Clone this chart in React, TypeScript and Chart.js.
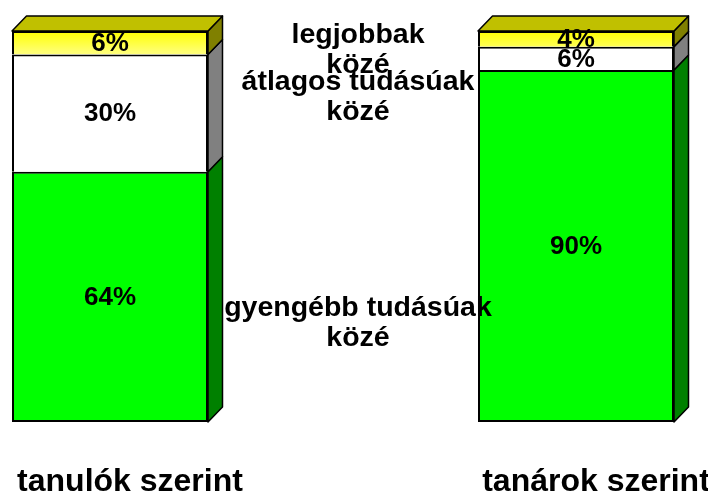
import React, { useEffect, useRef } from "react";
import { Chart, registerables } from "chart.js";

Chart.register(...registerables);

// ---- data ----
const categories = ["tanulók szerint", "tanárok szerint"];
const seriesNames = [
  ["gyengébb tudásúak", "közé"],
  ["átlagos tudásúak", "közé"],
  ["legjobbak", "közé"],
];
const weakValues = [64, 90];
const averageValues = [30, 6];
const bestValues = [6, 4];
// value-axis position of the first line of each series name
const nameAnchorValues = [29.2, 86.8, 99.0];
const valueMin = 0;
const valueMax = 100;

// ---- styles ----
const frontColors = ["#00ff00", "#ffffff", "yellowGradient"];
const sideColors = ["#008000", "#808080", "#808000"];
const topColors = ["#00c000", "#c0c0c0", "#c0c000"];
const DEPTH_X = 14.5;
const DEPTH_Y = 15;
const EDGE = "#000000";

const threeD = {
  id: "threeD",
  afterDatasetsDraw(chart: any) {
    const ctx = chart.ctx;
    const n = chart.data.datasets.length;
    ctx.save();
    ctx.lineWidth = 1.5;
    ctx.strokeStyle = EDGE;
    ctx.lineJoin = "round";
    for (let d = 0; d < n; d++) {
      const meta = chart.getDatasetMeta(d);
      meta.data.forEach((el: any) => {
        const p = el.getProps(["x", "y", "base", "width"], true);
        const x2 = p.x + p.width / 2;
        const x1 = p.x - p.width / 2;
        const yT = Math.min(p.y, p.base);
        const yB = Math.max(p.y, p.base);
        ctx.beginPath();
        ctx.moveTo(x2, yT);
        ctx.lineTo(x2 + DEPTH_X, yT - DEPTH_Y);
        ctx.lineTo(x2 + DEPTH_X, yB - DEPTH_Y);
        ctx.lineTo(x2, yB);
        ctx.closePath();
        ctx.fillStyle = sideColors[d];
        ctx.fill();
        ctx.stroke();
        if (d === n - 1) {
          ctx.beginPath();
          ctx.moveTo(x1, yT);
          ctx.lineTo(x1 + DEPTH_X, yT - DEPTH_Y);
          ctx.lineTo(x2 + DEPTH_X, yT - DEPTH_Y);
          ctx.lineTo(x2, yT);
          ctx.closePath();
          ctx.fillStyle = topColors[d];
          ctx.fill();
          ctx.stroke();
        }
      });
    }
    // value labels
    ctx.fillStyle = "#000";
    ctx.font = "bold 26px 'Liberation Sans', Arial, sans-serif";
    ctx.textAlign = "center";
    ctx.textBaseline = "middle";
    for (let d = 0; d < n; d++) {
      const meta = chart.getDatasetMeta(d);
      const vals = chart.data.datasets[d].data;
      meta.data.forEach((el: any, i: number) => {
        const p = el.getProps(["x", "y", "base"], true);
        ctx.fillText(vals[i] + "%", p.x, (p.y + p.base) / 2 + 1);
      });
    }
    ctx.restore();
  },
  afterDraw(chart: any) {
    const ctx = chart.ctx;
    const xs = chart.scales.x;
    const ys = chart.scales.y;
    const cx = (xs.getPixelForValue(0) + xs.getPixelForValue(1)) / 2 + 15;
    ctx.save();
    ctx.fillStyle = "#000";
    ctx.font = "bold 28.5px 'Liberation Sans', Arial, sans-serif";
    ctx.textAlign = "center";
    ctx.textBaseline = "middle";
    seriesNames.forEach((lines, i) => {
      const y0 = ys.getPixelForValue(nameAnchorValues[i]);
      lines.forEach((t, j) => ctx.fillText(t, cx, y0 + j * 30));
    });
    // category labels
    ctx.font = "bold 32px 'Liberation Sans', Arial, sans-serif";
    ctx.textBaseline = "alphabetic";
    const baseY = chart.chartArea.bottom + 68.5;
    categories.forEach((c, i) => {
      ctx.fillText(c, xs.getPixelForValue(i) + 20, baseY);
    });
    ctx.restore();
  },
};

function yellowGradient(c: any) {
  const chart = c.chart;
  const ys = chart.scales && chart.scales.y;
  if (!chart.chartArea || !ys) return "#ffff00";
  const top = ys.getPixelForValue(valueMax);
  const bottom = ys.getPixelForValue(valueMax - 6);
  const g = chart.ctx.createLinearGradient(0, top, 0, bottom);
  g.addColorStop(0, "#ffff00");
  g.addColorStop(1, "#ffff80");
  return g;
}

export default function App() {
  const ref = useRef<HTMLCanvasElement | null>(null);
  useEffect(() => {
    if (!ref.current) return;
    const series = [weakValues, averageValues, bestValues];
    const chart = new Chart(ref.current, {
      type: "bar",
      data: {
        labels: categories,
        datasets: series.map((vals, i) => ({
          label: seriesNames[i].join(" "),
          data: vals,
          backgroundColor: frontColors[i] === "yellowGradient" ? yellowGradient : frontColors[i],
          borderColor: EDGE,
          borderWidth: 2,
          borderSkipped: i === 0 ? false : "start",
          categoryPercentage: 1,
          barPercentage: 0.4206,
          clip: false,
        })) as any,
      },
      options: {
        animation: false,
        responsive: true,
        maintainAspectRatio: false,
        layout: { padding: { left: 110, right: 132, top: 31, bottom: 0 } },
        plugins: { legend: { display: false }, tooltip: { enabled: false } },
        scales: {
          x: {
            stacked: true,
            offset: false,
            grid: { display: false, drawTicks: false },
            border: { display: false },
            afterFit: (s: any) => {
              s.height = 70;
            },
            ticks: { display: false },
          },
          y: {
            stacked: true,
            display: false,
            min: valueMin,
            max: valueMax,
          },
        },
      } as any,
      plugins: [threeD],
    });
    return () => chart.destroy();
  }, []);
  return (
    <div style={{ position: "fixed", left: 0, top: 0, width: 708, height: 492, background: "#fff" }}>
      <canvas ref={ref} />
    </div>
  );
}
